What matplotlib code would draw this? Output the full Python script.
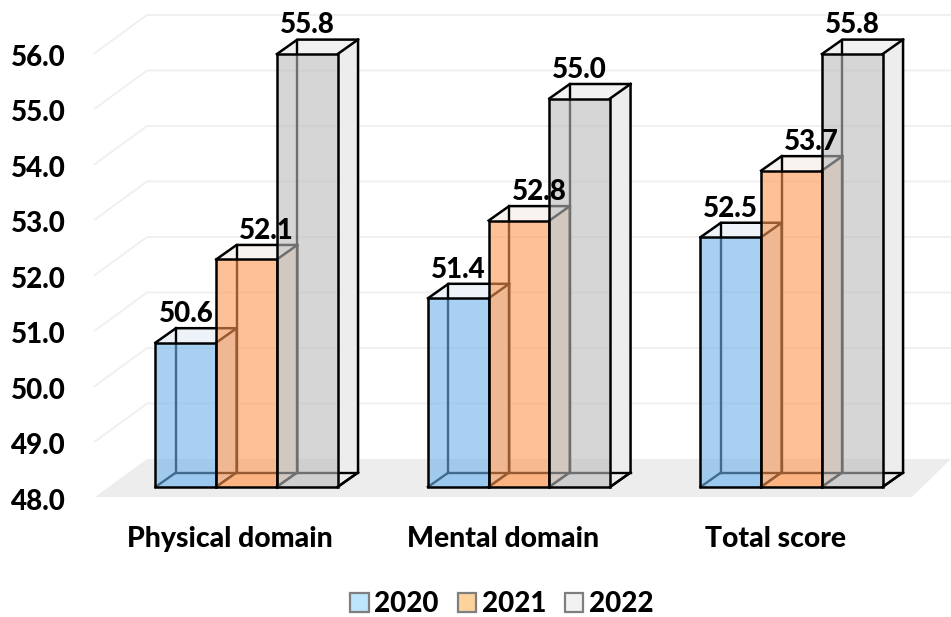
import numpy as np
import matplotlib
matplotlib.use("Agg")
import matplotlib.pyplot as plt
from matplotlib.patches import Patch, Polygon

# Data
categories = ["Physical domain", "Mental domain", "Total score"]
years = ["2020", "2021", "2022"]
scores_2020 = [50.6, 51.4, 52.5]
scores_2021 = [52.1, 52.8, 53.7]
scores_2022 = [55.8, 55.0, 55.8]
y_ticks = [48, 49, 50, 51, 52, 53, 54, 55, 56]

# Scale of the picture
W, H = 951, 617
px_x = 272.5  # pixels per category
px_y = 55.5  # pixels per score unit
bar_w = 60.7 / px_x
depth_x = 20.5 / px_x  # 3D depth of a bar
depth_y = 14.5 / px_y
wall_x = 52 / px_x  # 3D depth of the floor
wall_y = 38 / px_y
wall_left = (95 - 246.5) / px_x
floor_right = (912 - 246.5) / px_x
level_shift = 0.18  # the front of the floor sits below the bars

front_colors = ["#6EB2EC", "#FE9852", "#BBBBBB"]
side_colors = ["#DDE9F3", "#F6DCC8", "#EDEDED"]
top_colors = ["#EDF3F8", "#F8F3EE", "#F1F1F1"]
legend_colors = ["#BDE5FB", "#FDD39B", "#F2F2F2"]
label_nudge = [0, 0.073, 0]  # the 2021 labels sit to the right of their bars
font = "Lato"
weight = 900

fig = plt.figure(figsize=(W / 100, H / 100), dpi=100)
ax = fig.add_axes([70 / W, (H - 505) / H, (W - 70) / W, 505 / H])
ax.set_xlim((70 - 246.5) / px_x, (W - 246.5) / px_x)
ax.set_ylim(48 - 18 / px_y, 48 + 487 / px_y)
for s in ax.spines.values():
    s.set_visible(False)

# Floor and back wall
y0 = 48 - level_shift
ax.add_patch(Polygon([(wall_left, y0), (wall_left + wall_x, y0 + wall_y),
                      (ax.get_xlim()[1], y0 + wall_y), (floor_right, y0)],
                     fc="#EDEDED", ec="none", zorder=1))
for v in y_ticks[1:]:
    lev = v - level_shift
    ax.plot([wall_left, wall_left + wall_x, ax.get_xlim()[1]],
            [lev, lev + wall_y, lev + wall_y], color="#F0F0F0", lw=1.4, zorder=1)


def draw_box(x, v, i, z):
    xl, xr = x, x + bar_w
    dx, dy = depth_x, depth_y
    # top and side faces
    ax.add_patch(Polygon([(xl, v), (xl + dx, v + dy), (xr + dx, v + dy), (xr, v)],
                         fc=top_colors[i], ec="none", zorder=z))
    ax.add_patch(Polygon([(xr, 48), (xr + dx, 48 + dy), (xr + dx, v + dy), (xr, v)],
                         fc=side_colors[i], ec="none", zorder=z))
    # floor of the box and the hidden edges
    ax.add_patch(Polygon([(xl, 48), (xl + dx, 48 + dy), (xr + dx, 48 + dy), (xr, 48)],
                         fc=side_colors[i], ec="none", zorder=z))
    for a, b in [((xl + dx, 48 + dy), (xl + dx, v + dy)),
                 ((xl + dx, 48 + dy), (xr + dx, 48 + dy)),
                 ((xl, 48), (xl + dx, 48 + dy)),
                 ((xr, 48), (xr + dx, 48 + dy))]:
        ax.plot([a[0], b[0]], [a[1], b[1]], color="black", lw=1.7, zorder=z)
    # visible edges
    ax.plot([xl, xl + dx, xr + dx, xr + dx, xr],
            [v, v + dy, v + dy, 48 + dy, 48], color="black", lw=1.8, zorder=z + 0.2,
            solid_joinstyle="miter")
    ax.plot([xr, xr + dx], [v, v + dy], color="black", lw=1.8, zorder=z + 0.2)
    # front face
    ax.bar(xl, v - 48, bar_w, bottom=48, align="edge", color=front_colors[i],
           alpha=0.6, ec="none", zorder=z + 0.1)
    ax.bar(xl, v - 48, bar_w, bottom=48, align="edge", fill=False, ec="black",
           lw=1.8, zorder=z + 0.3)


x_pos = np.arange(len(categories))
series = [scores_2020, scores_2021, scores_2022]
for i, vals in enumerate(series):
    for k, v in enumerate(vals):
        left = x_pos[k] + (i - 1.5) * bar_w
        draw_box(left, v, i, 2 + i + k * 3)
        ax.text(left + bar_w / 2 + label_nudge[i], v + depth_y + 0.02, f"{v:.1f}",
                ha="center", va="bottom", fontsize=20, fontweight=weight, family=font,
                color="black", zorder=30)

# Axis labels
ax.set_yticks(np.array(y_ticks) - 0.22, [f"{v:.1f}" for v in y_ticks])
ax.set_xticks(x_pos - 0.06, categories)
ax.tick_params(axis="y", length=0, pad=3)
ax.tick_params(axis="x", length=0, pad=15)
for lab in ax.get_yticklabels():
    lab.set(fontsize=20, fontweight=weight, family=font, color="black")
for lab in ax.get_xticklabels():
    lab.set(fontsize=20.4, fontweight=weight, family=font, color="black")

# Legend
handles = [Patch(fc=c, ec="#7F7F7F", lw=1.6) for c in legend_colors]
fig.legend(handles, years, loc="center", bbox_to_anchor=(502 / W, 1 - 604 / H), ncol=3,
           frameon=False, handlelength=0.65, handleheight=0.65, handletextpad=0.2,
           columnspacing=0.7, borderpad=0, prop={"family": font, "weight": weight, "size": 20})

fig.savefig("out.png", dpi=100)
